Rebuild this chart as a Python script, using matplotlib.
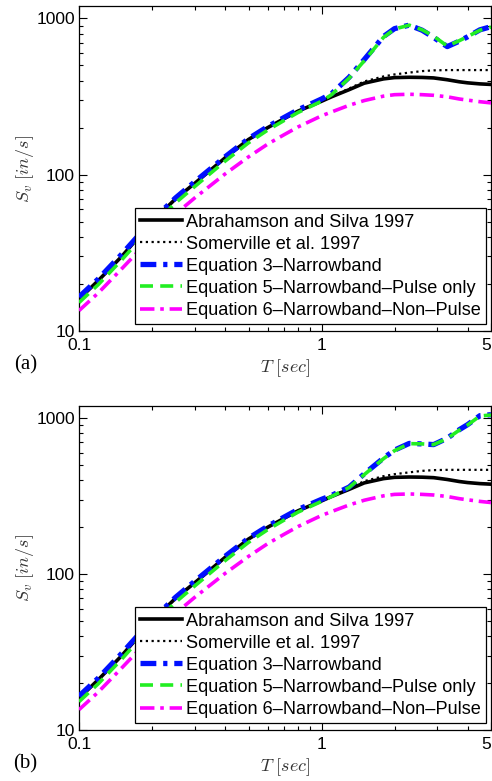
# Sv spectra comparison, two panels (a) and (b)

# --------------------------------------------
# imports
# --------------------------------------------
import matplotlib
matplotlib.use("Agg")
from matplotlib import pyplot as plt
from matplotlib.ticker import LogLocator, NullFormatter, FixedLocator, FixedFormatter

# --------------------------------------------
# data
# --------------------------------------------

# period T [sec]
period = [0.1, 0.12, 0.15, 0.2, 0.25, 0.3, 0.4, 0.5, 0.6, 0.7, 0.8, 1.0, 1.1,
          1.3, 1.5, 1.8, 2.0, 2.3, 2.6, 2.9, 3.3, 3.7, 4.0, 4.5, 5.0]

# Abrahamson and Silva 1997
sv_as97 = [16, 21, 30, 50, 70, 88, 128, 168, 200, 228, 255, 295, 315,
           350, 385, 410, 418, 420, 419, 416, 405, 393, 387, 381, 378]

# Somerville et al. 1997
sv_som97 = [16, 21, 30, 50, 70, 88, 128, 168, 200, 228, 255, 295, 316,
            356, 395, 425, 438, 450, 460, 465, 467, 467, 467, 467, 467]

# Equation 6 - Narrowband - Non-Pulse (same in both panels)
sv_eq6 = [13.5, 17.5, 25, 40, 56, 71, 101, 130, 157, 180, 202, 238, 252,
          278, 298, 318, 325, 327, 325, 322, 315, 305, 300, 293, 288]

# panel (a)
sv_eq3_a = [16.5, 21.5, 31, 51, 71, 90, 130, 170, 203, 232, 260, 305, 330,
            420, 545, 765, 860, 905, 840, 755, 660, 715, 762, 845, 885]
sv_eq5_a = [15.2, 19.8, 28.5, 47, 66, 84, 122, 160, 193, 222, 250, 295, 325,
            415, 535, 755, 855, 905, 845, 770, 665, 720, 765, 840, 880]

# panel (b)
sv_eq3_b = [16.5, 21.5, 31, 51, 71, 90, 130, 170, 203, 232, 260, 302, 320,
            362, 440, 555, 625, 690, 685, 678, 745, 845, 910, 1040, 1055]
sv_eq5_b = [15.2, 19.8, 28.5, 47, 66, 84, 122, 160, 193, 222, 250, 293, 315,
            360, 435, 550, 620, 688, 685, 678, 742, 840, 905, 1035, 1050]

legend_labels = ["Abrahamson and Silva 1997",
                 "Somerville et al. 1997",
                 "Equation 3\u2013Narrowband",
                 "Equation 5\u2013Narrowband\u2013Pulse only",
                 "Equation 6\u2013Narrowband\u2013Non\u2013Pulse"]

x_ticks = [0.1, 1, 5]
x_ticklabels = ["0.1", "1", "5"]
y_ticks = [10, 100, 1000]
y_ticklabels = ["10", "100", "1000"]

# --------------------------------------------
# style
# --------------------------------------------
plt.rcParams['font.family'] = ['Liberation Sans', 'DejaVu Sans']
plt.rcParams['mathtext.fontset'] = 'cm'


def draw_panel(ax, eq3, eq5, tag, fig):
    ax.plot(period, sv_as97, color="black", lw=2.6, ls="-", label=legend_labels[0], zorder=3)
    ax.plot(period, sv_som97, color="black", lw=1.6, ls=(0, (1, 1.6)), label=legend_labels[1], zorder=2)
    ax.plot(period, eq3, color="#0010ff", lw=3.8, ls=(0, (3.0, 1.3, 0.8, 1.3)), label=legend_labels[2], zorder=4)
    ax.plot(period, eq5, color="#22ee22", lw=2.6, ls=(0, (3.6, 2.0)), label=legend_labels[3], zorder=5)
    ax.plot(period, sv_eq6, color="#ff00ff", lw=2.6, ls=(0, (4.0, 1.6, 1.0, 1.6)), label=legend_labels[4], zorder=3)

    ax.set_xscale("log")
    ax.set_yscale("log")
    ax.set_xlim(0.1, 5)
    ax.set_ylim(10, 1200)

    ax.xaxis.set_major_locator(FixedLocator(x_ticks))
    ax.xaxis.set_major_formatter(FixedFormatter(x_ticklabels))
    ax.xaxis.set_minor_locator(LogLocator(base=10, subs=range(2, 10)))
    ax.xaxis.set_minor_formatter(NullFormatter())
    ax.yaxis.set_major_locator(FixedLocator(y_ticks))
    ax.yaxis.set_major_formatter(FixedFormatter(y_ticklabels))
    ax.yaxis.set_minor_locator(LogLocator(base=10, subs=range(2, 10)))
    ax.yaxis.set_minor_formatter(NullFormatter())

    ax.tick_params(which="both", direction="in", top=True, right=True, labelsize=12.5, width=0.8)
    ax.tick_params(which="major", length=6)
    ax.tick_params(which="minor", length=3)
    ax.tick_params(axis="x", pad=5)
    ax.tick_params(axis="y", pad=3)
    for s in ax.spines.values():
        s.set_linewidth(0.9)

    # last x label sits on the right edge, keep it inside the figure
    fig.canvas.draw()
    ax.get_xticklabels()[-1].set_horizontalalignment("right")

    ax.set_xlabel(r"$T\ [sec]$", fontsize=13, color="#333333", labelpad=3)
    ax.set_ylabel(r"$S_v\ [in/s]$", fontsize=13, color="#333333", labelpad=0)

    leg = ax.legend(loc="lower right", bbox_to_anchor=(0.988, 0.0215), borderaxespad=0,
                    fontsize=13.1, frameon=True, fancybox=False, framealpha=1,
                    edgecolor="black", handlelength=2.3, handletextpad=0.22,
                    labelspacing=0.28, borderpad=0.28)
    leg.get_frame().set_linewidth(0.9)

    # panel tag
    pos = ax.get_position()
    fig.text(0.052, pos.y0 - 0.043, tag, fontsize=15, family="Liberation Serif",
             ha="center", va="center")


# --------------------------------------------
# figure
# --------------------------------------------
fig = plt.figure(figsize=(4.92, 7.81), dpi=100)
ax_a = fig.add_axes([0.1606, 0.5762, 0.8374, 0.4161])
ax_b = fig.add_axes([0.1606, 0.0653, 0.8374, 0.4149])

draw_panel(ax_a, sv_eq3_a, sv_eq5_a, "(a)", fig)
draw_panel(ax_b, sv_eq3_b, sv_eq5_b, "(b)", fig)

fig.savefig("out.png", dpi=100)
